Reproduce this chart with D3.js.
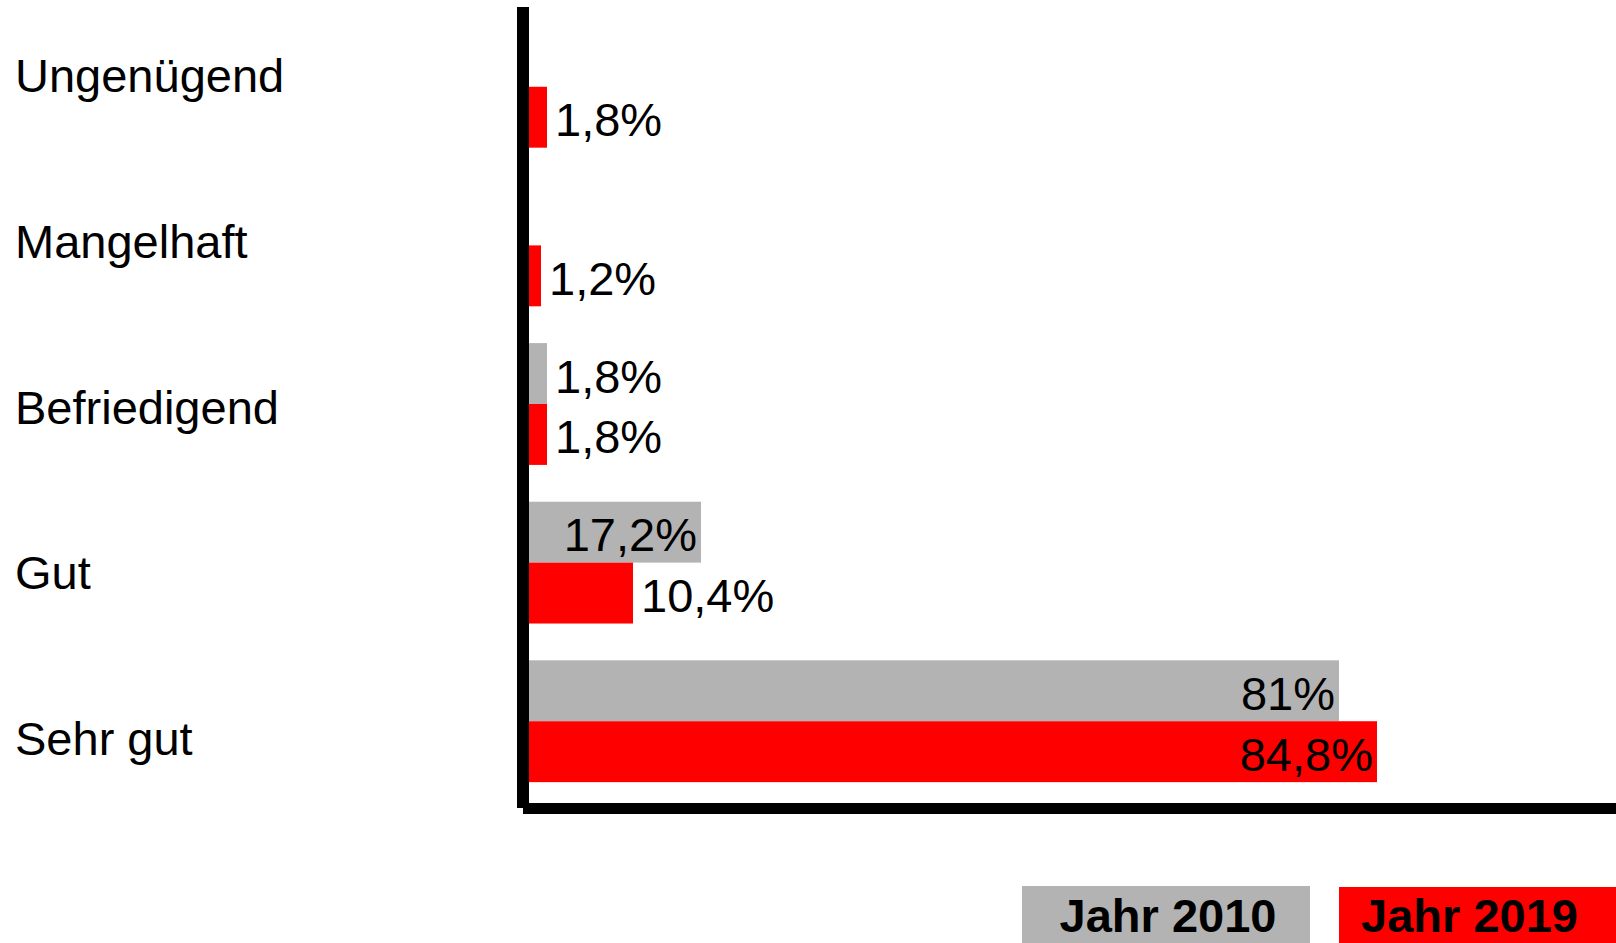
<!DOCTYPE html>
<html>
<head>
<meta charset="utf-8">
<script src="https://cdn.jsdelivr.net/npm/d3@7"></script>
<style>
  html, body { margin: 0; padding: 0; background: #ffffff; }
  svg { display: block; }
</style>
</head>
<body>
<div id="chart"></div>
<script>
// ---- data ----
const categories = ["Ungenügend", "Mangelhaft", "Befriedigend", "Gut", "Sehr gut"];
const seriesNames = ["Jahr 2010", "Jahr 2019"];
const values2010 = [0, 0, 1.8, 17.2, 81];
const values2019 = [1.8, 1.2, 1.8, 10.4, 84.8];
const seriesColors = ["#b3b3b3", "#ff0000"];

// ---- layout ----
const W = 1616, H = 943;
const svg = d3.select("#chart").append("svg")
  .attr("width", W).attr("height", H)
  .style("font-family", "'Liberation Sans', Arial, sans-serif");

const x = d3.scaleLinear().domain([0, 100]).range([529, 1529]);
const y0 = d3.scaleBand().domain(categories).range([10, 798])
  .paddingInner(0.232).paddingOuter(0.1);
const y1 = d3.scaleBand().domain(seriesNames).range([0, y0.bandwidth()]);
const labelY = d3.scalePoint().domain(categories).range([92, 755]);

const locale = d3.formatLocale({decimal: ",", thousands: ".", grouping: [3], currency: ["", "€"]});
const fmt = v => locale.format("~g")(v) + "%";

const rows = [];
categories.forEach((c, i) => {
  rows.push({cat: c, series: seriesNames[0], value: values2010[i], color: seriesColors[0]});
  rows.push({cat: c, series: seriesNames[1], value: values2019[i], color: seriesColors[1]});
});

// bars
svg.append("g").selectAll("rect").data(rows.filter(d => d.value > 0)).join("rect")
  .attr("x", x(0))
  .attr("y", d => y0(d.cat) + y1(d.series))
  .attr("width", d => x(d.value) - x(0))
  .attr("height", y1.bandwidth())
  .attr("fill", d => d.color);

// value labels
svg.append("g").selectAll("text").data(rows.filter(d => d.value > 0)).join("text")
  .attr("x", d => d.value > 15 ? x(d.value) - 4 : x(d.value) + 8)
  .attr("y", d => y0(d.cat) + y1(d.series) + y1.bandwidth() / 2 + 19)
  .attr("text-anchor", d => d.value > 15 ? "end" : "start")
  .attr("font-size", 47)
  .attr("fill", "#000")
  .text(d => fmt(d.value));

// category labels
svg.append("g").selectAll("text").data(categories).join("text")
  .attr("x", 15)
  .attr("y", d => labelY(d))
  .attr("font-size", 47)
  .attr("fill", "#000")
  .text(d => d);

// axes lines
svg.append("line")
  .attr("x1", 523).attr("x2", 523)
  .attr("y1", 7).attr("y2", 808)
  .attr("stroke", "#000").attr("stroke-width", 12);
svg.append("line")
  .attr("x1", 523).attr("x2", W)
  .attr("y1", 808.5).attr("y2", 808.5)
  .attr("stroke", "#000").attr("stroke-width", 11);

// legend
const legendBoxes = [
  {name: seriesNames[0], color: seriesColors[0], x0: 1022, x1: 1310, y: 886},
  {name: seriesNames[1], color: seriesColors[1], x0: 1339, x1: 1616, y: 887}
];
const lg = svg.append("g").selectAll("g").data(legendBoxes).join("g");
lg.append("rect")
  .attr("x", d => d.x0).attr("y", d => d.y)
  .attr("width", d => d.x1 - d.x0).attr("height", d => H - d.y)
  .attr("fill", d => d.color);
lg.append("text")
  .attr("x", (d, i) => i === 0 ? (d.x0 + d.x1) / 2 + 2 : (d.x0 + d.x1) / 2 - 8)
  .attr("y", 932)
  .attr("text-anchor", "middle")
  .attr("font-size", 47)
  .attr("font-weight", "bold")
  .attr("fill", "#000")
  .text(d => d.name);
</script>
</body>
</html>
